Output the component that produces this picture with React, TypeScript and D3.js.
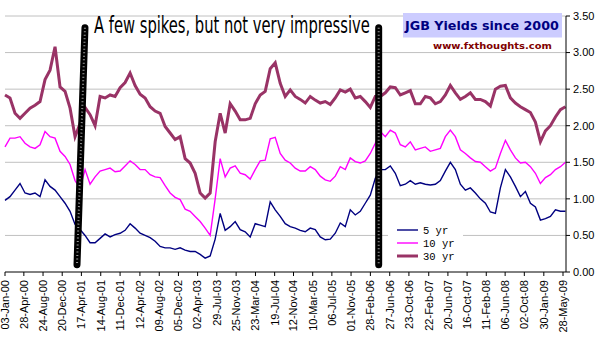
import React, { useLayoutEffect, useRef, useState } from "react";
import * as d3 from "d3";

// Sampled yields (roughly every 31 days from 03-Jan-00 to 12-Jun-09)
const yield5 = [
  0.98, 1.03, 1.12, 1.21, 1.08, 1.06, 1.08, 1.03, 1.26, 1.17,
  1.12, 1.03, 0.94, 0.83, 0.65, 0.58, 0.50, 0.40, 0.40, 0.46,
  0.52, 0.48, 0.51, 0.53, 0.57, 0.66, 0.60, 0.53, 0.50, 0.47,
  0.42, 0.35, 0.33, 0.33, 0.31, 0.33, 0.30, 0.28, 0.28, 0.24,
  0.19, 0.22, 0.45, 0.80, 0.57, 0.62, 0.69, 0.58, 0.55, 0.48,
  0.66, 0.64, 0.62, 0.96, 0.85, 0.76, 0.66, 0.62, 0.60, 0.57,
  0.55, 0.60, 0.58, 0.48, 0.44, 0.45, 0.53, 0.67, 0.62, 0.85,
  0.78, 0.83, 0.94, 1.05, 1.28, 1.40, 1.40, 1.45, 1.35, 1.18,
  1.20, 1.25, 1.20, 1.22, 1.20, 1.19, 1.20, 1.25, 1.38, 1.50,
  1.40, 1.20, 1.12, 1.15, 1.08, 1.00, 0.94, 0.82, 0.80, 1.15,
  1.40, 1.30, 1.17, 1.03, 1.10, 0.94, 0.89, 0.71, 0.73, 0.76,
  0.85, 0.83, 0.83,
];
const yield10 = [
  1.71, 1.83, 1.83, 1.85, 1.76, 1.71, 1.69, 1.74, 1.92, 1.85,
  1.83, 1.65, 1.58, 1.47, 1.25, 1.15, 1.40, 1.20, 1.30, 1.38,
  1.40, 1.42, 1.37, 1.38, 1.45, 1.52, 1.47, 1.40, 1.40, 1.33,
  1.30, 1.29, 1.18, 1.08, 1.02, 0.99, 0.86, 0.83, 0.76, 0.69,
  0.60, 0.50, 1.00, 1.55, 1.30, 1.42, 1.45, 1.35, 1.33, 1.27,
  1.40, 1.52, 1.53, 1.82, 1.84, 1.62, 1.53, 1.49, 1.42, 1.38,
  1.38, 1.44, 1.40, 1.31, 1.26, 1.24, 1.31, 1.44, 1.40, 1.56,
  1.51, 1.49, 1.52, 1.62, 1.76, 1.92, 1.85, 1.94, 1.90, 1.74,
  1.71, 1.78, 1.67, 1.69, 1.71, 1.65, 1.67, 1.69, 1.85, 1.94,
  1.85, 1.67, 1.62, 1.56, 1.51, 1.50, 1.44, 1.38, 1.42, 1.62,
  1.80, 1.67, 1.56, 1.49, 1.50, 1.44, 1.35, 1.21, 1.29, 1.33,
  1.40, 1.44, 1.50,
];
const yield30 = [
  2.42, 2.38, 2.17, 2.10, 2.17, 2.24, 2.28, 2.33, 2.63, 2.76,
  3.08, 2.53, 2.47, 2.24, 1.85, 2.03, 2.25, 2.15, 2.00, 2.40,
  2.38, 2.42, 2.40, 2.52, 2.59, 2.72, 2.55, 2.43, 2.38, 2.26,
  2.20, 2.17, 1.99, 1.90, 1.81, 1.85, 1.55, 1.49, 1.35, 1.08,
  1.01, 1.08, 1.78, 2.17, 1.90, 2.30, 2.20, 2.08, 2.08, 2.10,
  2.30, 2.42, 2.47, 2.78, 2.86, 2.58, 2.40, 2.49, 2.40, 2.36,
  2.31, 2.40, 2.35, 2.31, 2.33, 2.29, 2.38, 2.49, 2.46, 2.50,
  2.38, 2.40, 2.33, 2.25, 2.40, 2.40, 2.45, 2.53, 2.52, 2.42,
  2.45, 2.48, 2.30, 2.30, 2.40, 2.38, 2.30, 2.33, 2.42, 2.55,
  2.45, 2.36, 2.40, 2.45, 2.36, 2.36, 2.33, 2.27, 2.50, 2.54,
  2.55, 2.38, 2.31, 2.26, 2.22, 2.18, 2.05, 1.78, 1.93, 2.00,
  2.12, 2.22, 2.26,
];
const seriesStart = "03-Jan-00";
const seriesEnd = "12-Jun-09";

const xTickLabels = [
  "03-Jan-00", "28-Apr-00", "24-Aug-00", "20-Dec-00", "17-Apr-01", "14-Aug-01",
  "11-Dec-01", "12-Apr-02", "09-Aug-02", "05-Dec-02", "02-Apr-03", "29-Jul-03",
  "25-Nov-03", "23-Mar-04", "19-Jul-04", "12-Nov-04", "10-Mar-05", "06-Jul-05",
  "01-Nov-05", "28-Feb-06", "27-Jun-06", "23-Oct-06", "22-Feb-07", "20-Jun-07",
  "16-Oct-07", "11-Feb-08", "06-Jun-08", "02-Oct-08", "30-Jan-09", "28-May-09",
];
const yTickValues = [0, 0.5, 1, 1.5, 2, 2.5, 3, 3.5];
const seriesNames = ["5 yr", "10 yr", "30 yr"];
const seriesColors = ["#000080", "#ff00ff", "#993366"];
const seriesWidths = [1.4, 1.4, 3];

const titleText = "JGB Yields since 2000";
const siteText = "www.fxthoughts.com";
const noteText = "A few spikes, but not very impressive";
// hand-drawn spike markers: [date at top, date at bottom]
const spikeMarks = [
  ["09-May-01", "21-Mar-01"],
  ["20-Apr-06", "20-Apr-06"],
];
const spikeTop = 3.34;
const spikeBottom = 0.1;

const parse = d3.timeParse("%d-%b-%y");

function FittedText(props: {
  x: number;
  y: number;
  width: number;
  text: string;
  fontSize: number;
  fontFamily: string;
  fontWeight?: string;
  fill: string;
}) {
  const ref = useRef<SVGTextElement>(null);
  const [sx, setSx] = useState(1);
  useLayoutEffect(() => {
    if (ref.current) {
      const w = ref.current.getComputedTextLength();
      if (w > 0) setSx(props.width / w);
    }
  }, [props.text, props.width, props.fontSize, props.fontFamily]);
  return (
    <text
      ref={ref}
      transform={`translate(${props.x},${props.y}) scale(${sx},1)`}
      fontFamily={props.fontFamily}
      fontSize={props.fontSize}
      fontWeight={props.fontWeight}
      fill={props.fill}
    >
      {props.text}
    </text>
  );
}

export default function App() {
  const x = d3
    .scaleTime()
    .domain([parse("03-Jan-00")!, parse("28-May-09")!])
    .range([5, 563]);
  const y = d3.scaleLinear().domain([0, 3.5]).range([272, 16]);
  const left = 5;
  const right = 566;

  const series = [yield5, yield10, yield30];
  const n = yield5.length;
  const idxToTime = d3
    .scaleLinear()
    .domain([0, n - 1])
    .range([+parse(seriesStart)!, +parse(seriesEnd)!]);

  const line = d3
    .line<number>()
    .x((_, i) => x(new Date(idxToTime(i))))
    .y((d) => y(d));

  const font = "'Liberation Sans', Arial, sans-serif";
  const wideBold = "'DejaVu Sans', Verdana, sans-serif";

  return (
    <svg
      width={602}
      height={338}
      style={{ position: "absolute", left: 0, top: 0, background: "#fff" }}
    >
      {/* gridlines */}
      {yTickValues
        .filter((v) => v > 0)
        .map((v) => (
          <line
            key={"g" + v}
            x1={left}
            x2={right}
            y1={y(v)}
            y2={y(v)}
            stroke="#c0c0c0"
            strokeWidth={1}
          />
        ))}

      {/* series */}
      {series.map((s, i) => (
        <path
          key={seriesNames[i]}
          d={line(s) || ""}
          fill="none"
          stroke={seriesColors[i]}
          strokeWidth={seriesWidths[i]}
          strokeLinejoin="miter"
        />
      ))}

      {/* axes */}
      <line x1={left} x2={right} y1={y(0)} y2={y(0)} stroke="#000" />
      <line x1={right} x2={right} y1={y(3.5)} y2={y(0)} stroke="#000" />
      {yTickValues.map((v) => (
        <g key={"yt" + v}>
          <line x1={right} x2={right + 4} y1={y(v)} y2={y(v)} stroke="#000" />
          <text
            x={right + 7}
            y={y(v)}
            dy="0.35em"
            fontFamily={font}
            fontSize={11}
            fill="#000"
          >
            {d3.format(".2f")(v)}
          </text>
        </g>
      ))}
      {xTickLabels.map((lab) => {
        const px = x(parse(lab)!);
        return (
          <g key={lab}>
            <line x1={px} x2={px} y1={y(0)} y2={y(0) + 4} stroke="#000" />
            <text
              transform={`translate(${px},${y(0) + 8}) rotate(-90)`}
              textAnchor="end"
              dy="0.35em"
              fontFamily={font}
              fontSize={11}
              fill="#000"
            >
              {lab}
            </text>
          </g>
        );
      })}

      {/* legend */}
      <rect x={388} y={222} width={75} height={40} fill="#fff" />
      {seriesNames.map((nm, i) => {
        const ly = 230 + i * 13;
        return (
          <g key={"lg" + nm}>
            <line
              x1={397}
              x2={418}
              y1={ly}
              y2={ly}
              stroke={seriesColors[i]}
              strokeWidth={seriesWidths[i]}
            />
            <text
              x={423}
              y={ly}
              dy="0.35em"
              fontFamily="'Liberation Mono', 'Courier New', monospace"
              fontSize={10.5}
              fill="#000"
            >
              {nm}
            </text>
          </g>
        );
      })}

      {/* spike markers */}
      {spikeMarks.map(([top, bottom], i) => {
        const d = `M${x(parse(top)!)},${y(spikeTop)} L${x(parse(bottom)!)},${y(spikeBottom)}`;
        return (
          <g key={"sp" + i}>
            <path d={d} stroke="#000" strokeWidth={7} strokeLinecap="round" fill="none" />
            <path
              d={d}
              stroke="#fff"
              strokeWidth={2}
              strokeDasharray="1 2.5"
              fill="none"
              opacity={0.6}
            />
          </g>
        );
      })}

      {/* annotation */}
      <FittedText
        x={94}
        y={33}
        width={276}
        text={noteText}
        fontSize={23}
        fontFamily="'Liberation Sans Narrow', 'DejaVu Sans Condensed', 'Liberation Sans', sans-serif"
        fill="#000"
      />

      {/* title */}
      <rect x={403} y={13} width={159} height={24.5} fill="#ccccff" />
      <FittedText
        x={405}
        y={29.5}
        width={154}
        text={titleText}
        fontSize={12}
        fontFamily={wideBold}
        fontWeight="bold"
        fill="#000080"
      />
      <FittedText
        x={433}
        y={48.5}
        width={119}
        text={siteText}
        fontSize={9.5}
        fontFamily={wideBold}
        fontWeight="bold"
        fill="#800000"
      />
    </svg>
  );
}
